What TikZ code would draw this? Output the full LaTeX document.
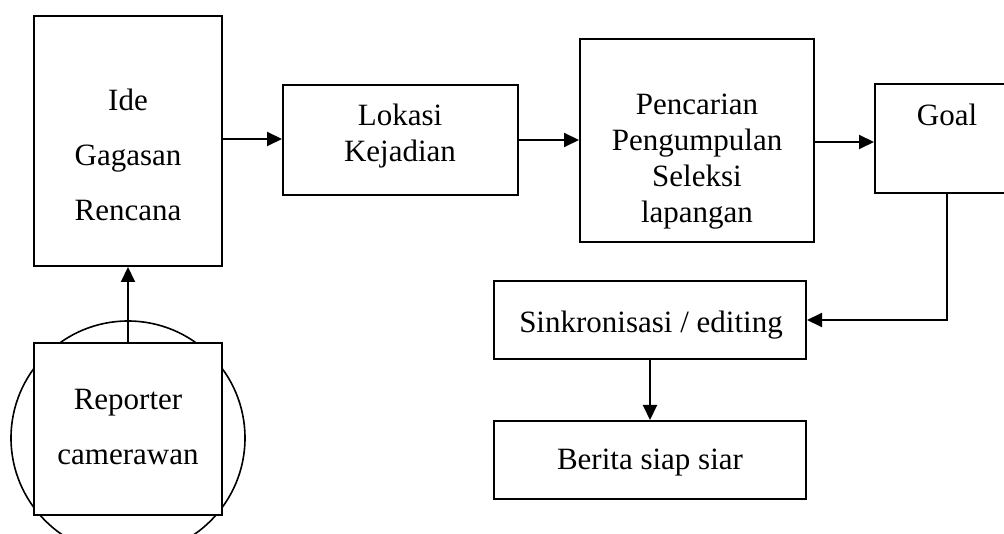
\documentclass[tikz,border=0pt]{standalone}
\usepackage{fontspec}
\setmainfont{Liberation Serif}
\usetikzlibrary{arrows.meta,calc}
\begin{document}
\begin{tikzpicture}[x=1pt,y=-1pt,
  boxst/.style={draw=black,line width=2pt,rectangle,inner sep=0pt},
  txt/.style={inner sep=0pt,align=center,font=\fontsize{31}{36}\selectfont},
  txtw/.style={inner sep=0pt,align=center,font=\fontsize{31}{55}\selectfont},
  arr/.style={line width=2pt,-{Triangle[length=15pt,width=14pt]}},
  ln/.style={line width=2pt}]
\useasboundingbox (0,0) rectangle (1004,534);
\clip (0,0) rectangle (1004,534);
% boxes
\node[boxst,minimum width=188pt,minimum height=250pt] (ide) at (128,141) {};
\node[txtw] (idet) at (128,155) {Ide\\Gagasan\\Rencana};
\node[boxst,minimum width=235pt,minimum height=110pt] (lok) at (400.5,140) {};
\node[txt] (lokt) at (400,136) {Lokasi\\Kejadian};
\node[boxst,minimum width=234pt,minimum height=203pt] (pen) at (697,140.5) {};
\node[txt] (pent) at (697,162) {Pencarian\\Pengumpulan\\Seleksi\\lapangan};
\node[boxst,minimum width=144pt,minimum height=109pt] (goal) at (947,138.5) {};
\node[txt] (goalt) at (947,115) {Goal};
\node[boxst,minimum width=312pt,minimum height=78pt] (sin) at (650,320) {};
\node[txt] (sint) at (651,325) {Sinkronisasi / editing};
\node[boxst,minimum width=312pt,minimum height=78pt] (ber) at (650,460) {};
\node[txt] (bert) at (650,463) {Berita siap siar};
% reporter with circle
\node[draw=black,line width=1.6pt,circle,minimum size=234pt,inner sep=0pt] (circ) at (128,438) {};
\node[boxst,fill=white,minimum width=188pt,minimum height=172pt] (rep) at (128,429) {};
\node[txtw] (rept) at (128,427) {Reporter\\camerawan};
% connectors
\draw[arr] ($(ide.east)+(0,-2)$) -- ($(ide.east -| lok.west)+(0,-2)$);
\draw[arr] (lok.east) -- (lok.east -| pen.west);
\draw[arr] ($(pen.east)+(0,1.5)$) -- ($(pen.east -| goal.west)+(0,1.5)$);
\draw[arr] (goal.south) |- (sin.east);
\draw[arr] (sin.south) -- (ber.north);
\draw[arr] (rep.north) -- (ide.south);
\end{tikzpicture}
\end{document}
